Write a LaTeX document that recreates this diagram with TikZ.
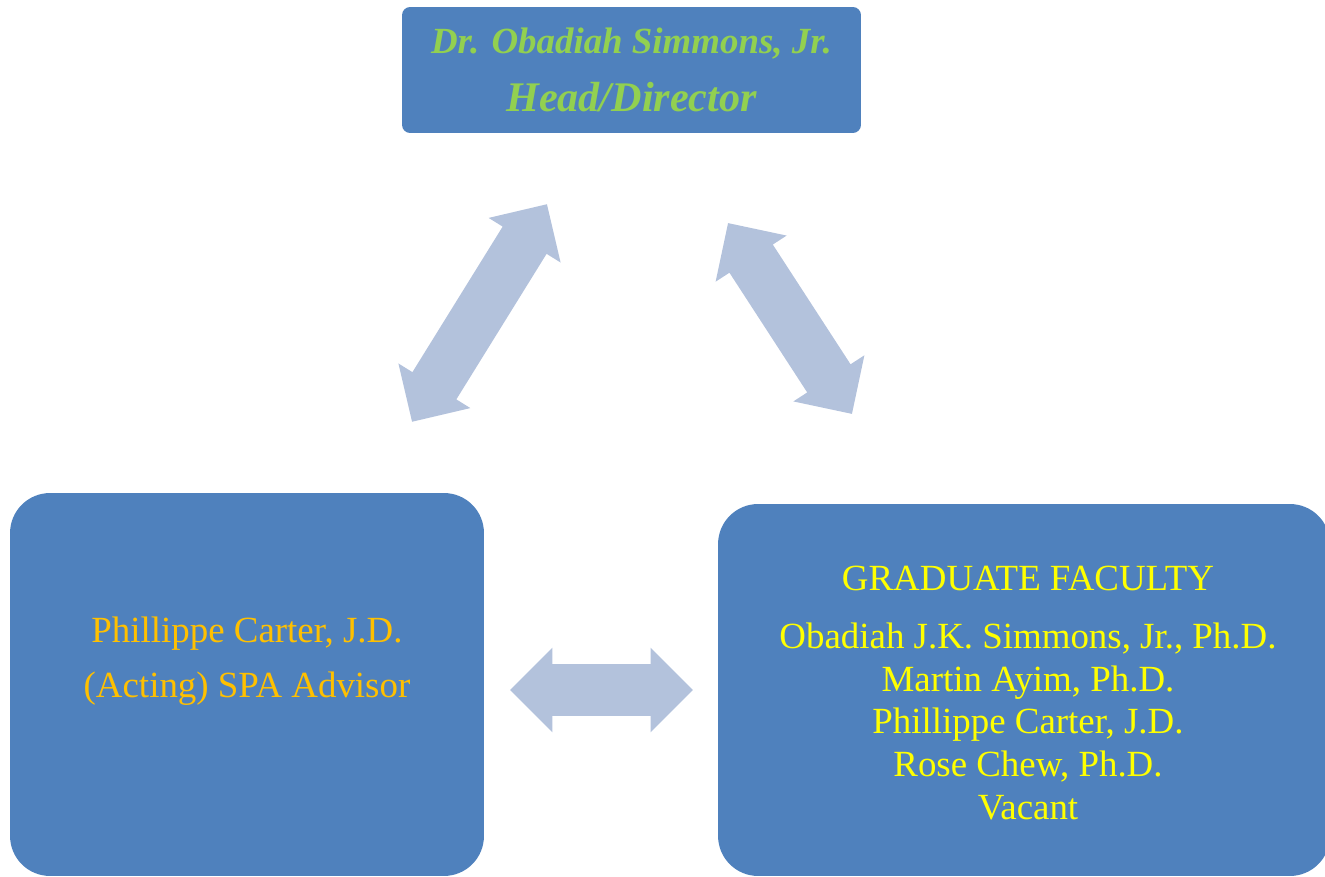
\documentclass[tikz,border=0pt]{standalone}
\usepackage{fontspec}
\setmainfont{Liberation Serif}
\usetikzlibrary{shapes.arrows}
\definecolor{boxblue}{RGB}{79,129,189}
\definecolor{arrowblue}{RGB}{179,194,220}
\definecolor{headgreen}{RGB}{146,208,80}
\definecolor{advorange}{RGB}{255,192,0}
\definecolor{facyellow}{RGB}{255,255,0}
\begin{document}
\begin{tikzpicture}[x=0.02cm,y=0.02cm]
\tikzset{
	orgbox/.style={fill=boxblue, draw=none, inner sep=0pt, align=center},
	linkarrow/.style={double arrow,
		fill=arrowblue,
		draw=none,
		inner xsep=0pt,
		inner ysep=0.51cm, % half the shaft width
		double arrow head extend=0.33cm, % head sticks out past the shaft
		double arrow tip angle=90
}}
\useasboundingbox (0,0) rectangle (1325,876);
\clip (0,0) rectangle (1325,876);

\node[orgbox, rounded corners=0.16cm, minimum width=9.18cm, minimum height=2.52cm, text=headgreen, font=\bfseries\itshape] (Head) at (631.5,806)
	{{\fontsize{21}{25}\selectfont Dr. Obadiah Simmons, Jr.}\\[0.43cm]{\fontsize{24}{28}\selectfont Head/Director}};
\node[orgbox, rounded corners=0.8cm, minimum width=9.48cm, minimum height=7.66cm] (Advisor) at (247,191.5) {};
\node[orgbox, rounded corners=0.8cm, minimum width=12.24cm, minimum height=7.44cm] (Faculty) at (1024,186) {};

\node[align=center, text=advorange, font=\fontsize{21}{31}\selectfont] (AdvisorTxt) at (247,215)
	{Phillippe Carter, J.D.\\(Acting) SPA Advisor};
\node[align=center, text=facyellow, font=\fontsize{21}{24.4}\selectfont] (FacultyTxt) at (1028,183)
	{GRADUATE FACULTY\\[0.3cm]Obadiah J.K. Simmons, Jr., Ph.D.\\Martin Ayim, Ph.D.\\Phillippe Carter, J.D.\\Rose Chew, Ph.D.\\Vacant};

\node[linkarrow, minimum height=5.12cm, rotate=58.2] (HeadAdvisor) at (479.5,563) {};
\node[linkarrow, minimum height=4.55cm, rotate=-57] (HeadFaculty) at (790,557.5) {};
\node[linkarrow, minimum height=3.66cm] (AdvisorFaculty) at (601.5,186) {};
\end{tikzpicture}
\end{document}
